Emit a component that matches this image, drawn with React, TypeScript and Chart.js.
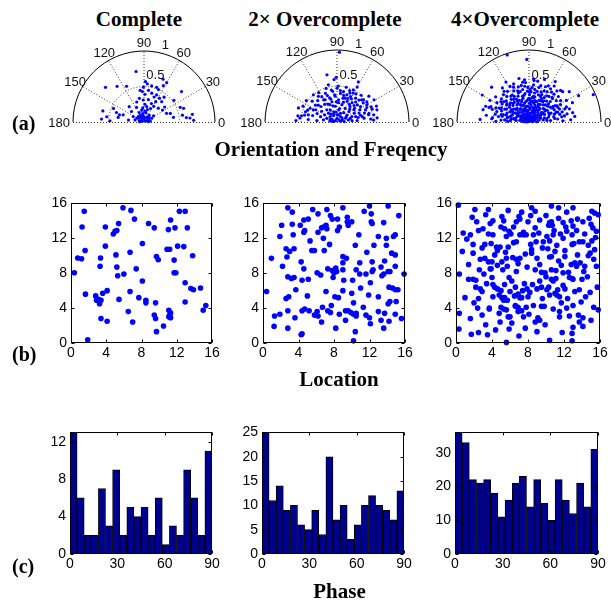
import React, { useEffect, useRef } from "react";
import { Chart, registerables } from "chart.js";
Chart.register(...registerables);

type Pt = [number, number];

// ---------- Titles / labels ----------
const columnTitles = ["Complete", "2\u00d7 Overcomplete", "4\u00d7Overcomplete"];
const rowTags = ["(a)", "(b)", "(c)"];
const rowTitles = ["Orientation and Freqency", "Location", "Phase"];

// ---------- Polar (orientation in degrees, frequency radius) ----------
const polarAngleTicks = [0, 30, 60, 90, 120, 150, 180];
const polarRadiusTicks = [0.5, 1];

const polarComplete: Pt[] = [
  [99,.72],[138,.73],[127,.63],[116,.56],[88,.57],[85,.54],[66,.66],[60,.64],[62,.58],[66,.50],[39,.68],[36,.52],[22,.55],[19,.59],[9,.69],[2,.70],[6,.60],[165,.60],[172,.53],[176,.60],[156,.47],[164,.36],[170,.37],[161,.41],[140,.23],[134,.30],
  [97,.45],[93,.43],[88,.39],[82,.45],[75,.42],[68,.38],[65,.42],[57,.40],[49,.38],[60,.33],[68,.28],[79,.32],[92,.31],[101,.34],[110,.30],[80,.22],[64,.21],[58,.26],[44,.28],[33,.31],[36,.36],[21,.34],[101,.17],[117,.15],[117,.23],[87,.25],[51,.45],[70,.52],[78,.52],[91,.49],
  [120,.11],[97,.08],[60,.08],[53,.12],[26,.12],[151,.11],[167,.13],[140,.04],[53,.02],[32,.07],[10,.09],[164,.07],[99,.12],[78,.13],[33,.16],[153,.17],[5,.06],[175,.06],[90,.05],[137,.11],
  [10,.55],[5,.65],[9,.42],[18,.39],[178,.48],[161,.31],[173,.22],
  [70,.06],[110,.07],[45,.10],[130,.08],[85,.15],[100,.10],[20,.05],[160,.03],[75,.18],[95,.20]
];

const polar2x: Pt[] = [
  [88,.97],[91,.62],[102,.67],[94,.59],[103,.53],[108,.49],[62,.63],[60,.56],
  [131,.50],[122,.48],[121,.41],[145,.52],[174,.52],[170,.50],[162,.46],[153,.42],[142,.38],[157,.30],[166,.41],[121,.36],[117,.28],[119,.19],[104,.23],
  [39,.57],[31,.60],[22,.59],[17,.58],[11,.52],[5,.47],[23,.43],[36,.45],[45,.43],[30,.48],[24,.52],[3,.51],[13,.45],
  [83,.40],[78,.43],[70,.40],[62,.40],[61,.46],[52,.42],[68,.47],[75,.50],[76,.34],[86,.31],[94,.36],[98,.43],[90,.47],[64,.32],[52,.34],[40,.37],[33,.39],[74,.25],[59,.22],[50,.28],[36,.29],[22,.33],[12,.36],[79,.19],[96,.22],[104,.29],[107,.35],[112,.43],[63,.50],[48,.50],[40,.48],
  [90,.10],[58,.09],[119,.10],[152,.08],[22,.08],[24,.13],[50,.04],[141,.03],[141,.12],[160,.15],[35,.17],[15,.19],[5,.21],[171,.19],[162,.24],[54,.16],[41,.22],[82,.17],[108,.15],[134,.17],[16,.27],[4,.28],[176,.28],[90,.05],[11,.05],[170,.06],[3,.10],[172,.10],
  [160,.57],[155,.52],[153,.37],[136,.31],
  [55,.30],[65,.36],[72,.29],[85,.27],[95,.38],[105,.33],[112,.26],[125,.30],[130,.22],[45,.25],[38,.31],[28,.36],[18,.40],[12,.30],[8,.38],[150,.34],[158,.44],[165,.35],[168,.46],[175,.40],[140,.45],[132,.40],[118,.35],[100,.45],[88,.50],[76,.38],[66,.44],[56,.47],[47,.38],[42,.46],[34,.50],[26,.46],[20,.52],[15,.46],[6,.56],[178,.57],[171,.55],[145,.26],[128,.14],[112,.12],[96,.14],[80,.10],[68,.13],[40,.09],[30,.15],[20,.22],[10,.16],[160,.10],[170,.05],[150,.20],
  [58,.38],[71,.35],[84,.44],[92,.28],[110,.39],[44,.33],[27,.27],[16,.34],[138,.35],[126,.44]
];

const polar4x: Pt[] = [
  [5,.05],[15,.08],[25,.12],[35,.06],[45,.10],[55,.13],[65,.04],[75,.09],[85,.12],[95,.07],[105,.11],[115,.05],[125,.13],[135,.08],[145,.10],[155,.06],[165,.12],[175,.09],[10,.14],[20,.03],[30,.11],[40,.14],[50,.07],[60,.10],[70,.14],[80,.05],[90,.10],[100,.14],[110,.08],[120,.12],[130,.03],[140,.14],[150,.11],[160,.08],[170,.13],[178,.05],[2,.11],[12,.06],[48,.04],[88,.03],[132,.06],[172,.02],[62,.08],[98,.02],[28,.09],[152,.13],[78,.13],[118,.09],[42,.12],[138,.12],
  [8,.20],[14,.28],[18,.17],[22,.33],[26,.24],[30,.19],[33,.30],[37,.22],[40,.34],[44,.27],[47,.18],[50,.31],[53,.24],[56,.34],[59,.20],[62,.28],[65,.33],[68,.16],[71,.25],[74,.31],[77,.21],[80,.29],[83,.34],[86,.18],[89,.26],[92,.32],[95,.22],[98,.29],[101,.17],[104,.34],[107,.25],[110,.30],[113,.19],[116,.27],[119,.33],[122,.22],[125,.29],[128,.17],[131,.25],[134,.32],[137,.20],[140,.28],[143,.34],[146,.23],[149,.17],[152,.30],[155,.25],[158,.33],[161,.19],[164,.27],[167,.22],[170,.31],[173,.18],[176,.26],[4,.30],[11,.25],[24,.16],[35,.27],[46,.33],[57,.29],[66,.23],[73,.17],[79,.34],[87,.31],[94,.16],[103,.27],[111,.24],[118,.18],[127,.34],[136,.26],[145,.30],[154,.18],[163,.33],[171,.25],[20,.30],[52,.20],[84,.24],[108,.32],[126,.21],[142,.19],[60,.34],[90,.33],[70,.30],[100,.22],[38,.16],[32,.23],[148,.27],[58,.16],[76,.27],[115,.33],
  [6,.40],[10,.50],[14,.44],[17,.37],[20,.53],[23,.46],[26,.39],[29,.50],[32,.43],[35,.36],[38,.48],[41,.54],[44,.41],[47,.47],[50,.38],[53,.52],[56,.44],[59,.49],[62,.37],[65,.54],[68,.45],[71,.40],[74,.50],[77,.36],[80,.46],[83,.52],[86,.42],[89,.38],[92,.48],[95,.55],[98,.40],[101,.46],[104,.37],[107,.51],[110,.43],[113,.39],[116,.48],[119,.36],[122,.44],[125,.52],[128,.40],[131,.47],[134,.37],[137,.43],[140,.50],[143,.39],[146,.45],[149,.52],[152,.38],[155,.46],[158,.41],[161,.54],[164,.37],[167,.48],[170,.43],[173,.51],[176,.39],[179,.46],[2,.47],[8,.36],[12,.54],[19,.42],[27,.45],[34,.53],[43,.37],[52,.45],[58,.40],[64,.48],[72,.53],[79,.41],[85,.48],[93,.43],[97,.50],[106,.44],[114,.53],[120,.41],[129,.55],[138,.36],[144,.48],[153,.43],[162,.47],[168,.38],[175,.52],[48,.52],[66,.39],[88,.45],[102,.52],[124,.38],[157,.50],[31,.38],
  [3,.58],[7,.64],[12,.62],[18,.59],[24,.66],[30,.60],[37,.70],[42,.63],[48,.58],[55,.61],[62,.57],[70,.63],[78,.58],[84,.60],[96,.59],[103,.62],[112,.57],[120,.64],[128,.60],[137,.71],[143,.58],[151,.62],[158,.57],[165,.66],[171,.60],[177,.68],[22,.56],[57,.67],[118,.56],[160,.59],
  [23,.97],[92,.87],[108,.98],[28,.78],[150,.75],
  [15,.22],[20,.40],[25,.30],[30,.45],[35,.20],[40,.28],[45,.46],[50,.22],[55,.36],[60,.25],[65,.42],[70,.20],[75,.44],[80,.36],[85,.28],[90,.42],[95,.30],[100,.38],[105,.20],[110,.46],[115,.26],[120,.30],[125,.44],[130,.34],[135,.24],[140,.40],[145,.20],[150,.36],[155,.44],[160,.26],[165,.40],[170,.20],[175,.34],[12,.35],[17,.48],[33,.40],[63,.18],[87,.20],[113,.16],[141,.45],[167,.30],[5,.25],[178,.30],[57,.55],[83,.58],[99,.56],[133,.52],[45,.62],[160,.64],[9,.46]
];

// ---------- Location (x, y on a 16x16 patch) ----------
const locationTicks = [0, 4, 8, 12, 16];

const locComplete: Pt[] = [
  [0.38,8.05],[0.76,9.74],[1.2,9.66],[1.26,13.3],[1.5,15.1],[1.6,10.6],[1.64,5.6],[1.9,0.37],[2.8,5.4],[3.1,5.0],[2.9,4.9],[3.4,4.9],[3.24,4.5],[3.35,9.74],[3.3,8.8],[3.4,2.8],[3.6,5.7],[3.9,13.3],[3.9,11.1],[4.1,6.0],[4.1,2.5],[4.8,12.5],[5.0,12.8],[5.2,12.9],[5.4,13.7],[5.1,10.1],[5.2,8.7],[5.3,7.7],[6.0,7.9],[5.45,5.0],[5.9,15.5],[6.8,15.2],[7.2,14.2],[6.7,10.4],[7.4,8.5],[6.7,5.9],[6.5,3.6],[7.0,2.4],[8.1,11.4],[8.1,7.1],[7.7,5.2],[8.5,4.9],[8.5,4.6],[8.8,13.7],[9.45,13.2],[9.7,9.9],[9.9,9.55],[9.6,4.6],[9.45,3.2],[9.6,2.8],[9.7,1.3],[10.5,1.95],[11.05,13.0],[11.3,14.1],[10.9,10.75],[11.2,10.75],[11.8,13.2],[11.7,9.5],[11.7,8.05],[11.9,8.05],[11.1,3.75],[11.3,3.45],[11.2,3.2],[11.3,2.9],[11.1,3.0],[12.1,11.1],[12.3,15.1],[12.95,15.1],[13.2,13.2],[12.8,11.05],[12.95,6.9],[12.95,4.7],[13.8,10.0],[13.6,6.25],[13.9,6.1],[14.7,6.3],[15.0,3.75],[15.3,4.3]
];

const loc2x: Pt[] = [
  [2.8,15.5],[3.3,15.0],[5.6,15.3],[6.2,14.8],[7.2,15.3],[7.6,14.6],[7.8,14.2],[9.0,15.5],[9.5,14.4],[9.5,13.9],[9.6,13.5],[11.4,15.1],[12.0,15.7],[12.2,14.8],[12.2,13.9],[12.3,13.7],[14.1,15.7],[6.8,13.3],[7.1,13.5],[6.6,13.2],[7.2,13.1],[4.6,14.1],[5.1,14.2],[4.2,13.5],[4.7,12.9],[4.6,12.7],[2.1,13.5],[3.3,13.6],[3.4,12.4],[1.9,12.2],[6.2,12.7],[6.8,12.0],[8.4,12.9],[8.6,13.3],[8.4,14.2],
  [13.0,12.2],[13.9,12.0],[14.9,12.4],[14.7,12.2],[12.5,11.2],[10.4,11.2],[13.9,11.2],[14.5,10.3],[14.9,10.1],[2.6,10.8],[3.0,10.5],[3.5,10.8],[0.95,9.7],[5.5,10.6],[5.8,10.6],[6.9,10.6],[9.0,9.9],[9.4,9.7],[2.7,9.85],
  [2.2,8.8],[4.3,9.3],[4.6,8.5],[2.8,7.6],[3.2,7.4],[3.5,7.5],[4.4,7.2],[5.1,7.3],[6.1,8.05],[6.5,7.8],[7.3,8.5],[7.8,8.3],[8.0,8.05],[8.2,8.6],[8.3,8.2],[7.9,7.5],[9.0,9.2],[9.0,8.4],[9.1,7.2],[10.5,8.4],[10.9,9.2],[10.9,7.9],[11.6,7.9],[12.3,9.3],[12.3,8.2],[12.4,8.4],[13.3,8.7],[13.4,7.7],[13.6,7.9],[13.7,9.4],[14.1,8.2],[14.3,8.2],[14.9,8.8],[15.9,7.9],[10.1,7.2],
  [0.4,5.9],[3.7,6.1],[2.6,5.1],[2.9,5.3],[7.1,5.9],[8.1,5.3],[8.5,5.2],[9.0,6.0],[10.0,5.7],[10.2,4.6],[13.0,5.3],[14.2,6.4],[14.6,6.3],[14.9,6.1],[15.2,6.1],[14.1,4.5],[14.3,4.75],[15.0,4.75],[7.7,4.3],[6.7,4.1],[11.3,4.1],
  [1.3,3.1],[1.9,3.3],[1.25,1.9],[2.8,3.7],[2.8,1.7],[3.6,2.9],[4.3,0.95],[4.4,1.05],[4.4,3.7],[4.7,3.9],[5.2,3.7],[5.8,3.2],[6.2,3.1],[6.1,3.6],[6.6,2.4],[7.3,3.7],[7.6,3.5],[8.6,3.3],[9.3,3.7],[9.3,2.6],[9.6,3.7],[9.9,3.5],[10.2,3.3],[10.5,3.1],[10.5,3.4],[10.4,1.3],[10.2,0.25],[11.6,3.2],[12.0,2.9],[12.1,2.2],[13.0,3.6],[13.3,2.6],[13.6,1.7],[13.7,3.4],[14.2,2.5],[14.9,3.3],[15.6,2.8],
  [5.3,11.7],[7.5,11.3],[10.8,12.4],[11.7,10.4],[13.6,13.8],[15.3,14.6],[11.0,6.3],[12.1,6.9],[8.2,1.7],[5.0,5.4],[11.9,5.5],[10.0,13.9]
];

const loc4x: Pt[] = [
  [0.26,15.8],[1.8,14.4],[2.3,13.9],[3.3,14.7],[3.8,13.7],[4.1,14.0],[5.1,14.5],[5.8,15.2],[6.7,13.9],[7.0,14.5],[7.1,14.2],[8.0,13.9],[8.3,14.6],[8.4,15.5],[9.3,14.1],[10.4,13.8],[10.6,13.9],[10.6,15.7],[10.3,13.5],[10.7,13.5],[11.4,15.5],[11.9,13.8],[13.0,15.5],[13.0,13.4],[14.1,13.9],[15.1,15.1],[15.4,14.9],[15.8,14.7],[15.0,13.6],[13.5,14.2],[12.3,15.0],[5.3,14.0],[7.5,12.7],
  [1.2,11.9],[1.6,12.4],[1.9,11.3],[2.5,12.9],[3.2,11.3],[3.6,12.5],[3.9,11.4],[4.1,12.4],[4.5,11.0],[4.9,11.0],[5.0,13.3],[5.4,13.1],[5.6,12.2],[5.8,11.0],[6.1,12.5],[6.4,13.3],[6.7,11.6],[7.1,12.4],[7.5,12.4],[7.8,12.4],[8.6,12.4],[8.8,13.2],[8.9,11.6],[8.4,10.7],[9.7,11.6],[10.1,12.2],[10.4,11.7],[10.8,12.4],[11.2,11.2],[11.6,12.5],[11.9,12.0],[12.3,12.8],[12.9,11.3],[13.1,11.4],[13.7,11.6],[14.1,11.6],[14.7,11.2],[15.1,11.7],[15.6,12.8],[12.9,12.4],
  [1.9,10.3],[2.7,9.6],[3.2,9.7],[3.6,9.3],[3.8,8.5],[4.0,9.3],[4.6,10.6],[5.1,9.3],[5.6,9.7],[5.7,8.8],[6.3,9.8],[6.7,9.6],[6.7,8.2],[7.1,9.7],[7.9,8.7],[8.4,10.3],[8.8,8.4],[9.0,9.7],[9.3,9.0],[9.5,8.1],[9.9,8.05],[10.4,9.85],[10.6,9.9],[10.6,8.4],[11.0,10.5],[11.4,9.4],[11.7,8.9],[11.9,8.05],[12.1,9.9],[12.5,8.1],[13.2,9.2],[13.4,8.8],[13.8,9.2],[14.2,8.2],[14.7,10.0],[14.9,10.3],[15.6,8.8],[15.4,10.7],[14.3,8.8],[3.9,8.5],[5.2,8.4],
  [0.37,7.9],[1.4,7.3],[1.9,7.3],[2.2,7.2],[2.2,6.4],[2.7,6.2],[2.9,5.9],[4.0,7.5],[4.1,6.7],[4.3,6.4],[4.6,6.2],[4.1,5.3],[4.8,5.5],[5.1,5.2],[5.3,4.9],[5.4,5.2],[5.7,4.9],[5.9,7.5],[6.2,7.1],[6.0,5.9],[6.6,6.4],[6.9,5.6],[7.1,5.2],[7.3,5.2],[7.4,6.0],[7.6,6.8],[8.0,5.3],[8.2,5.8],[9.0,6.2],[9.3,7.1],[9.5,6.4],[10.0,7.6],[10.1,6.1],[10.6,7.3],[10.8,7.1],[11.1,7.4],[11.3,6.1],[11.0,5.7],[11.2,5.5],[11.5,5.3],[11.9,6.6],[12.1,6.2],[12.6,7.5],[12.9,7.4],[13.0,7.3],[13.7,6.1],[14.0,7.3],[14.9,5.8],[12.4,5.1],[10.4,5.5],
  [0.37,3.4],[2.5,5.1],[2.4,4.0],[3.7,4.0],[3.7,3.9],[5.0,4.1],[5.3,3.9],[5.6,3.8],[5.8,3.0],[6.0,3.0],[6.6,4.3],[6.9,4.1],[6.9,3.6],[7.3,3.7],[7.8,4.1],[8.6,4.3],[9.5,4.2],[9.8,4.2],[9.1,2.9],[9.3,2.6],[8.8,2.4],[11.5,3.6],[11.5,3.0],[12.3,4.0],[13.0,4.3],[13.6,3.2],[14.1,2.9],[13.7,2.4],[15.3,4.1],[15.8,3.8],[2.9,3.2],[1.6,2.8],[3.3,2.1],[4.9,2.4],[6.6,4.2],
  [0.33,1.6],[2.5,1.2],[3.5,0.94],[5.6,0.07],[5.9,1.6],[7.7,1.7],[9.9,2.1],[10.4,0.3],[12.9,0.26],[12.9,1.1],[13.0,1.8],[14.1,1.9],
  [0.8,12.6],[1.4,9.0],[2.0,4.6],[2.6,8.4],[3.0,13.1],[3.4,6.8],[4.4,1.5],[4.6,8.9],[5.0,6.0],[5.5,10.4],[6.2,2.3],[6.4,11.5],[6.9,9.1],[7.3,15.0],[7.7,10.2],[8.1,3.3],[8.5,6.7],[8.8,15.1],[9.2,12.6],[9.6,5.1],[10.0,14.6],[10.2,10.8],[10.8,3.9],[11.1,8.3],[11.4,14.3],[11.8,1.2],[12.1,10.6],[12.6,3.1],[12.8,14.0],[13.2,5.9],[13.5,10.1],[13.9,4.7],[14.3,12.5],[14.6,7.6],[15.0,2.6],[15.3,9.6],[15.7,6.4],[15.5,12.1],[1.0,5.2],[1.7,1.0],[2.9,10.9],[3.6,15.3],[4.3,10.1],[5.9,12.8],[6.5,5.4],[7.0,0.8],[7.9,6.2],[8.3,11.3],[9.6,10.9],[10.9,12.9],[11.7,4.6],[12.2,13.3],[13.4,12.9],[14.4,5.3],[15.2,13.2],[9.0,1.3],[4.8,3.4],[2.1,15.3],[0.7,10.5],[5.4,6.7],[7.5,3.0],[10.3,6.4],[12.8,9.0],[14.8,14.3],[3.1,7.9]
];

// ---------- Phase histograms (20 bins over 0..90) ----------
const phaseBinCenters = [2.25, 6.75, 11.25, 15.75, 20.25, 24.75, 29.25, 33.75, 38.25, 42.75, 47.25, 51.75, 56.25, 60.75, 65.25, 69.75, 74.25, 78.75, 83.25, 87.75];
const phaseTicks = [0, 30, 60, 90];
const phaseComplete = [13, 6, 2, 2, 7, 3, 9, 2, 5, 4, 5, 2, 6, 1, 3, 2, 9, 6, 2, 11];
const phase2x = [25, 11, 14, 9, 10, 6, 5, 9, 4, 20, 7, 10, 3, 6, 10, 12, 10, 9, 7, 13];
const phase4x = [36, 33, 22, 21, 22, 18, 11, 16, 21, 23, 14, 22, 15, 10, 22, 16, 12, 21, 14, 31];
const phaseYTicksComplete = [0, 4, 8, 12];
const phaseYTicks2x = [0, 5, 10, 15, 20, 25];
const phaseYTicks4x = [0, 10, 20, 30];

// ---------- styling ----------
const BLUE = "#0000ff";
const NAVY = "#00008f";
const SANS = "'Liberation Sans', Arial, Helvetica, sans-serif";
const SERIF = "'Liberation Serif', 'Times New Roman', serif";
const tickFont = { family: SANS, size: 14 };

const rad = (a: number) => (a * Math.PI) / 180;

const polarGridPlugin = {
  id: "polarGrid",
  beforeDatasetsDraw(chart: any) {
    const { ctx } = chart;
    const x = chart.scales.x;
    const y = chart.scales.y;
    const cx = x.getPixelForValue(0);
    const cy = y.getPixelForValue(0);
    const R = x.getPixelForValue(1) - cx;
    ctx.save();
    ctx.lineWidth = 1;
    ctx.strokeStyle = "#333";
    ctx.setLineDash([1, 2]);
    ctx.beginPath();
    ctx.moveTo(cx - R, cy + 0.5);
    ctx.lineTo(cx + R, cy + 0.5);
    polarAngleTicks.forEach((a) => {
      if (a === 0 || a === 180) return;
      ctx.moveTo(cx, cy);
      ctx.lineTo(cx + R * Math.cos(rad(a)), cy - R * Math.sin(rad(a)));
    });
    ctx.stroke();
    polarRadiusTicks.slice(0, -1).forEach((r) => {
      ctx.beginPath();
      ctx.arc(cx, cy, R * r, Math.PI, 2 * Math.PI);
      ctx.stroke();
    });
    ctx.setLineDash([]);
    ctx.strokeStyle = "#000";
    ctx.beginPath();
    ctx.arc(cx, cy, R, Math.PI, 2 * Math.PI);
    ctx.stroke();

    ctx.fillStyle = "#111";
    ctx.font = `13px ${SANS}`;
    ctx.textBaseline = "middle";
    polarAngleTicks.forEach((a) => {
      if (a === 0) {
        ctx.textAlign = "left";
        ctx.fillText(String(a), cx + R + 3, cy + 1);
      } else if (a === 180) {
        ctx.textAlign = "right";
        ctx.fillText(String(a), cx - R - 3, cy + 1);
      } else {
        ctx.textAlign = "center";
        const k = a === 90 ? 1.1 : 1.12;
        ctx.fillText(String(a), cx + k * R * Math.cos(rad(a)), cy - k * R * Math.sin(rad(a)));
      }
    });
    ctx.textAlign = "center";
    ctx.fillText(String(polarRadiusTicks[0]), cx + 0.16 * R, cy - 0.65 * R);
    ctx.fillText(String(polarRadiusTicks[1]), cx + 0.3 * R, cy - 1.08 * R);
    ctx.restore();
  },
};

const boxPlugin = {
  id: "matlabBox",
  afterDatasetsDraw(chart: any) {
    const { ctx, chartArea: a } = chart;
    const x = chart.scales.x;
    const y = chart.scales.y;
    ctx.save();
    ctx.strokeStyle = "#000";
    ctx.lineWidth = 1;
    const L = Math.round(a.left) + 0.5;
    const T = Math.round(a.top) + 0.5;
    const Rr = Math.round(a.right) - 0.5;
    const B = Math.round(a.bottom) - 0.5;
    ctx.strokeRect(L, T, Rr - L, B - T);
    ctx.beginPath();
    x.ticks.forEach((t: any) => {
      const p = Math.round(x.getPixelForValue(t.value)) + 0.5;
      ctx.moveTo(p, B);
      ctx.lineTo(p, B - 3);
      ctx.moveTo(p, T);
      ctx.lineTo(p, T + 3);
    });
    y.ticks.forEach((t: any) => {
      const p = Math.round(y.getPixelForValue(t.value)) + 0.5;
      ctx.moveTo(L, p);
      ctx.lineTo(L + 3, p);
      ctx.moveTo(Rr, p);
      ctx.lineTo(Rr - 3, p);
    });
    ctx.stroke();
    ctx.restore();
  },
};

const baseOptions = {
  responsive: false,
  animation: false,
  devicePixelRatio: 1,
  events: [],
  plugins: { legend: { display: false }, tooltip: { enabled: false }, title: { display: false } },
};

function axis(min: number, max: number, ticks: number[], isX: boolean, extra: any = {}) {
  return {
    type: "linear",
    min,
    max,
    offset: false,
    afterBuildTicks: (s: any) => {
      s.ticks = ticks.map((v) => ({ value: v }));
    },
    afterFit: (s: any) => {
      if (isX) s.height = 24;
      else s.width = 40;
    },
    grid: { display: false, drawTicks: false, offset: false },
    border: { display: false },
    ticks: { font: tickFont, color: "#000", padding: isX ? 2 : 4, maxRotation: 0, autoSkip: false },
    ...extra,
  };
}

function polarConfig(points: Pt[]) {
  return {
    type: "scatter",
    data: {
      datasets: [
        {
          data: points.map(([a, r]) => ({ x: r * Math.cos(rad(a)), y: r * Math.sin(rad(a)) })),
          pointRadius: 1.6,
          pointBackgroundColor: BLUE,
          pointBorderWidth: 0,
          clip: false,
        },
      ],
    },
    options: {
      ...baseOptions,
      layout: { padding: { left: 40, right: 40, top: 25, bottom: 12 } },
      scales: {
        x: { type: "linear", min: -1, max: 1, display: false },
        y: { type: "linear", min: 0, max: 1, display: false },
      },
    },
    plugins: [polarGridPlugin],
  };
}

function scatterConfig(points: Pt[]) {
  return {
    type: "scatter",
    data: {
      datasets: [
        {
          data: points.map(([x, y]) => ({ x, y })),
          pointRadius: 2.8,
          pointBackgroundColor: BLUE,
          pointBorderWidth: 0,
          clip: false,
        },
      ],
    },
    options: {
      ...baseOptions,
      layout: { padding: { left: 0, right: 12, top: 10, bottom: 0 } },
      scales: {
        x: axis(0, 16, locationTicks, true),
        y: axis(0, 16, locationTicks, false),
      },
    },
    plugins: [boxPlugin],
  };
}

function histConfig(counts: number[], yMax: number, yTicks: number[]) {
  return {
    type: "bar",
    data: {
      datasets: [
        {
          data: counts.map((c, i) => ({ x: phaseBinCenters[i], y: c })),
          backgroundColor: NAVY,
          borderColor: "#000",
          borderWidth: 1,
          borderSkipped: false,
          barPercentage: 1,
          categoryPercentage: 1,
        },
      ],
    },
    options: {
      ...baseOptions,
      layout: { padding: { left: 0, right: 12, top: 10, bottom: 0 } },
      scales: {
        x: axis(0, 90, phaseTicks, true, {}),
        y: axis(0, yMax, yTicks, false, { beginAtZero: true }),
      },
    },
    plugins: [boxPlugin],
  };
}

function ChartCanvas(props: { left: number; top: number; width: number; height: number; make: () => any }) {
  const ref = useRef<HTMLCanvasElement | null>(null);
  useEffect(() => {
    const chart = new Chart(ref.current as HTMLCanvasElement, props.make());
    return () => chart.destroy();
  }, []);
  return (
    <canvas
      ref={ref}
      width={props.width}
      height={props.height}
      style={{ position: "absolute", left: props.left, top: props.top, width: props.width, height: props.height }}
    />
  );
}

function Label(props: { text: string; x: number; baseline: number; size: number; center?: boolean }) {
  const { text, x, baseline, size, center } = props;
  return (
    <div
      style={{
        position: "absolute",
        left: x,
        top: baseline - 0.84 * size,
        transform: center ? "translateX(-50%)" : undefined,
        fontFamily: SERIF,
        fontWeight: "bold",
        fontSize: size,
        lineHeight: `${size}px`,
        whiteSpace: "nowrap",
        color: "#000",
      }}
    >
      {text}
    </div>
  );
}

export default function App() {
  return (
    <div style={{ position: "absolute", left: 0, top: 0, width: 611, height: 601, background: "#fff", overflow: "hidden" }}>
      <Label text={columnTitles[0]} x={139} baseline={27} size={21} center />
      <Label text={columnTitles[1]} x={325} baseline={27} size={21} center />
      <Label text={columnTitles[2]} x={525} baseline={27} size={21} center />

      <ChartCanvas left={33} top={26} width={222} height={108} make={() => polarConfig(polarComplete)} />
      <ChartCanvas left={225} top={25} width={224} height={109} make={() => polarConfig(polar2x)} />
      <ChartCanvas left={417} top={25} width={224} height={109} make={() => polarConfig(polar4x)} />

      <Label text={rowTags[0]} x={12} baseline={130} size={20} />
      <Label text={rowTitles[0]} x={331} baseline={157} size={21} center />

      <ChartCanvas left={31} top={191} width={193} height={176} make={() => scatterConfig(locComplete)} />
      <ChartCanvas left={223} top={191} width={194} height={176} make={() => scatterConfig(loc2x)} />
      <ChartCanvas left={416} top={191} width={196} height={176} make={() => scatterConfig(loc4x)} />

      <Label text={rowTags[1]} x={12} baseline={361} size={20} />
      <Label text={rowTitles[1]} x={339} baseline={387} size={21} center />

      <ChartCanvas left={30} top={420} width={194} height={158} make={() => histConfig(phaseComplete, 13, phaseYTicksComplete)} />
      <ChartCanvas left={222} top={420} width={194} height={158} make={() => histConfig(phase2x, 25, phaseYTicks2x)} />
      <ChartCanvas left={415} top={420} width={195} height={158} make={() => histConfig(phase4x, 36, phaseYTicks4x)} />

      <Label text={rowTags[2]} x={12} baseline={573} size={20} />
      <Label text={rowTitles[2]} x={339.5} baseline={599} size={21} center />
    </div>
  );
}
